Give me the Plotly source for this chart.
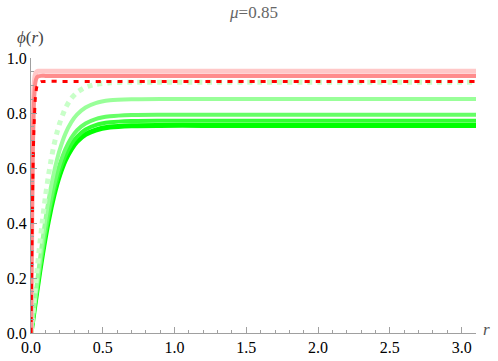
import plotly.graph_objects as go

# steep (red) profiles
r_fast = [0, 0.005, 0.01, 0.015, 0.02, 0.03, 0.04, 0.05, 0.07, 0.1, 0.2, 0.5, 1.0, 2.0, 3.1]
phi_pink = [0, 0.375, 0.649, 0.808, 0.886, 0.940, 0.950, 0.952, 0.952, 0.952, 0.952, 0.952, 0.952, 0.952, 0.952]
phi_salmon = [0, 0.320, 0.573, 0.739, 0.833, 0.910, 0.929, 0.933, 0.935, 0.935, 0.935, 0.935, 0.935, 0.935, 0.935]
phi_red = [0, 0.248, 0.462, 0.624, 0.736, 0.852, 0.894, 0.908, 0.914, 0.915, 0.915, 0.915, 0.915, 0.915, 0.915]

# slower (green) profiles
r_slow = [0, 0.02, 0.04, 0.06, 0.08, 0.1, 0.12, 0.14, 0.16, 0.18, 0.2, 0.24, 0.28, 0.32, 0.38,
          0.45, 0.55, 0.7, 0.9, 1.2, 1.6, 2.0, 2.5, 3.1]
phi_g_dash = [0, 0.110, 0.217, 0.318, 0.410, 0.494, 0.567, 0.630, 0.683, 0.727, 0.763, 0.818, 0.853,
              0.875, 0.894, 0.904, 0.910, 0.912, 0.912, 0.912, 0.912, 0.912, 0.912, 0.912]
phi_g1 = [0, 0.089, 0.177, 0.260, 0.339, 0.411, 0.476, 0.534, 0.584, 0.628, 0.666, 0.725, 0.766,
          0.794, 0.820, 0.836, 0.846, 0.850, 0.851, 0.851, 0.851, 0.851, 0.851, 0.851]
phi_g2 = [0, 0.081, 0.161, 0.237, 0.309, 0.375, 0.435, 0.489, 0.536, 0.577, 0.613, 0.669, 0.709,
          0.737, 0.762, 0.778, 0.788, 0.793, 0.794, 0.794, 0.794, 0.794, 0.794, 0.794]
phi_g3 = [0, 0.078, 0.154, 0.227, 0.296, 0.360, 0.418, 0.470, 0.516, 0.556, 0.591, 0.646, 0.686,
          0.713, 0.740, 0.756, 0.766, 0.771, 0.772, 0.772, 0.772, 0.772, 0.772, 0.772]
phi_g4 = [0, 0.075, 0.149, 0.220, 0.287, 0.349, 0.405, 0.456, 0.501, 0.541, 0.575, 0.629, 0.668,
          0.696, 0.722, 0.738, 0.749, 0.754, 0.755, 0.755, 0.755, 0.755, 0.755, 0.755]

x_ticks = [0.0, 0.5, 1.0, 1.5, 2.0, 2.5, 3.0]
y_ticks = [0.0, 0.2, 0.4, 0.6, 0.8, 1.0]

font_serif = 'Liberation Serif'

fig = go.Figure()


def add_line(x, y, color, width, dash='solid'):
    fig.add_trace(go.Scatter(x=x, y=y, mode='lines', line=dict(color=color, width=width, dash=dash, shape='spline', smoothing=0.6),
                             hoverinfo='skip', showlegend=False))


add_line(r_slow, phi_g4, '#00FF00', 5)
add_line(r_slow, phi_g3, '#33FF33', 4)
add_line(r_slow, phi_g2, '#66FF66', 4)
add_line(r_slow, phi_g1, '#99FF99', 4)
add_line(r_slow, phi_g_dash, '#C8FFC8', 5, dash='dot')
add_line(r_fast, phi_pink, '#FFC8C8', 5)
add_line(r_fast, phi_salmon, '#FF8C8C', 4)
add_line(r_fast, phi_red, '#FF0000', 3, dash='5px,6px')

axis_common = dict(showgrid=False, zeroline=False, showline=True, linecolor='#A0A0A0', linewidth=1,
                   ticks='inside', ticklen=6, tickcolor='#A0A0A0', tickwidth=1, automargin=False,
                   tickfont=dict(family=font_serif, size=16, color='black'),
                   minor=dict(ticks='inside', ticklen=3, tickcolor='#A0A0A0', tickwidth=1))

fig.update_xaxes(range=[0, 3.1], tickvals=x_ticks, ticktext=[f'{v:.1f}' for v in x_ticks],
                 minor_dtick=0.1, minor_tick0=0, **axis_common)
fig.update_yaxes(range=[0, 1.0], tickvals=y_ticks, ticktext=[f'{v:.1f}' for v in y_ticks],
                 minor_dtick=0.05, minor_tick0=0, **axis_common)

fig.add_annotation(text='<i>μ</i>=0.85', xref='paper', yref='paper', x=0.5, y=1.0, yshift=46,
                   showarrow=False, font=dict(family=font_serif, size=17, color='#666666'), yanchor='middle')
fig.add_annotation(text='<i>ϕ</i>(<i>r</i>)', xref='paper', yref='paper', x=0.0, y=1.0, xshift=-1, yshift=21,
                   showarrow=False, font=dict(family=font_serif, size=17, color='#444444'), xanchor='center', yanchor='middle')
fig.add_annotation(text='<i>r</i>', xref='paper', yref='paper', x=1.0, y=0.0, xshift=10, yshift=4,
                   showarrow=False, font=dict(family=font_serif, size=17, color='#555555'), xanchor='center', yanchor='middle')

fig.update_layout(width=498, height=361, plot_bgcolor='white', paper_bgcolor='white',
                  margin=dict(l=31, r=22, t=58, b=28))

fig.write_html('out.html', config={'displayModeBar': False}, post_script="document.body.style.margin='0';")
